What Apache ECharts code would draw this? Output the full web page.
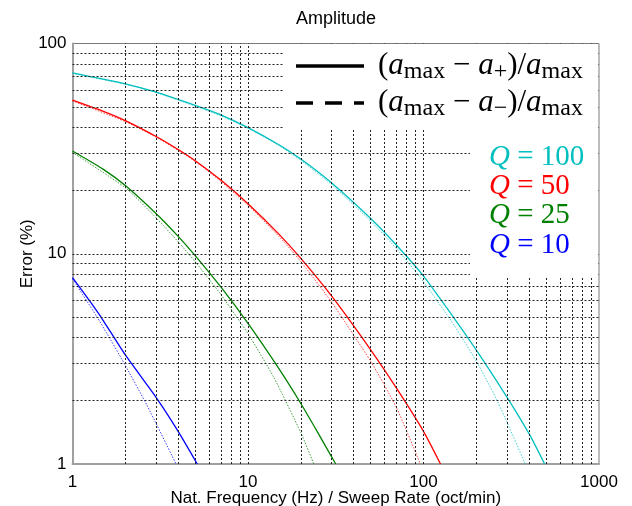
<!DOCTYPE html>
<html>
<head>
<meta charset="utf-8">
<script src="https://cdn.jsdelivr.net/npm/echarts@6/dist/echarts.min.js"></script>
<style>html,body{margin:0;padding:0;background:#fff}#c{width:632px;height:506px}</style>
</head>
<body>
<div id="c"></div>
<script>
// ---- data ----
const titleText = 'Amplitude';
const xName = 'Nat. Frequency (Hz) / Sweep Rate (oct/min)';
const yName = 'Error (%)';
const xTickLabels = [1, 10, 100, 1000];
const yTickLabels = [1, 10, 100];
const xGrid = [2,3,4,5,6,7,8,9,10,20,30,40,50,60,70,80,90,100,200,300,400,500,600,700,800,900];
const yGrid = [2,3,4,5,6,7,8,9,10,20,30,40,50,60,70,80,90];

const qLabels = ['100', '50', '25', '10'];
const qColors = ['#00BFBF', '#FF0000', '#008000', '#0000FF'];

// Q = 100
const q100PlusX  = [1, 2, 3, 5, 7, 10, 15, 20, 30, 50, 70, 100, 150, 200, 300, 400, 490];
const q100PlusY  = [72.5, 64.3, 58.7, 50.8, 45.8, 39.8, 33.0, 28.2, 21.7, 14.7, 11.0, 7.83, 4.92, 3.48, 2.07, 1.39, 1.0];
const q100MinusX = [1, 2, 3, 5, 7, 10, 15, 20, 30, 50, 70, 100, 150, 200, 250, 300, 380];
const q100MinusY = [72, 64, 58.4, 50.4, 45.3, 39.6, 32.7, 27.8, 21.3, 14.3, 10.6, 7.35, 4.55, 3.08, 2.18, 1.57, 1.0];
// Q = 50
const q50PlusX  = [1, 1.5, 2, 3, 4, 5, 7, 10, 15, 20, 30, 50, 70, 100, 125];
const q50PlusY  = [53.8, 47.6, 43.0, 36.1, 31.3, 27.7, 22.4, 17.3, 12.4, 9.5, 6.28, 3.49, 2.30, 1.43, 1.0];
const q50MinusX = [1, 2, 3, 5, 7, 10, 15, 20, 30, 50, 70, 96];
const q50MinusY = [53.3, 42.5, 35.8, 27.5, 22.1, 17.0, 12.1, 9.18, 5.87, 3.08, 1.86, 1.0];
// Q = 25
const q25PlusX  = [1, 1.5, 2, 3, 4, 5, 7, 10, 15, 20, 25, 31.6];
const q25PlusY  = [30.8, 25.2, 21.1, 15.5, 12.1, 9.8, 6.95, 4.66, 2.84, 1.94, 1.41, 1.0];
const q25MinusX = [1, 2, 3, 4, 5, 7, 10, 14, 20, 23.7];
const q25MinusY = [30.3, 20.6, 14.8, 11.4, 9.17, 6.4, 4.17, 2.59, 1.41, 1.0];
// Q = 10
const q10PlusX  = [1, 1.25, 1.5, 2, 3, 4, 5.14];
const q10PlusY  = [7.7, 5.98, 4.8, 3.3, 2.07, 1.43, 1.0];
const q10MinusX = [1, 1.37, 1.58, 1.91, 2.65, 3.89];
const q10MinusY = [7.6, 5.05, 4.14, 3.15, 1.91, 1.0];

// ---- chart ----
const zip = (xs, ys) => xs.map((x, i) => [x, ys[i]]);
const curves = [
  [q100PlusX, q100PlusY, q100MinusX, q100MinusY],
  [q50PlusX, q50PlusY, q50MinusX, q50MinusY],
  [q25PlusX, q25PlusY, q25MinusX, q25MinusY],
  [q10PlusX, q10PlusY, q10MinusX, q10MinusY]
];

const gridLineStyle = { color: '#222', width: 1, type: [2, 2] };
const series = [];
series.push({
  type: 'line', data: [], silent: true, z: 1,
  markLine: {
    silent: true, symbol: ['none', 'none'], label: { show: false },
    lineStyle: gridLineStyle, animation: false,
    emphasis: { disabled: true },
    data: xGrid.map(v => ({ xAxis: v })).concat(yGrid.map(v => ({ yAxis: v })))
  }
});
curves.forEach((c, i) => {
  series.push({
    type: 'line', data: zip(c[2], c[3]), showSymbol: false, smooth: 0.2,
    lineStyle: { color: qColors[i], width: 1, type: [1.5, 1.5], opacity: 0.75 }, z: 3
  });
  series.push({
    type: 'line', data: zip(c[0], c[1]), showSymbol: false, smooth: 0.2,
    lineStyle: { color: qColors[i], width: 1.3 }, z: 4
  });
});

const serif = 'Liberation Serif';
const sans = 'Liberation Sans';
const legendRich = {
  p: { fontFamily: serif, fontSize: 31, lineHeight: 36, verticalAlign: 'middle', fill: '#000' },
  i: { fontFamily: serif, fontStyle: 'italic', fontSize: 31, lineHeight: 36, verticalAlign: 'middle', fill: '#000' },
  s: { fontFamily: serif, fontSize: 24, lineHeight: 26, verticalAlign: 'bottom', fill: '#000' }
};

const graphics = [
  { type: 'rect', z: 100, shape: { x: 284, y: 44, width: 314, height: 86 }, style: { fill: '#fff' } },
  { type: 'rect', z: 100, shape: { x: 470, y: 130, width: 128, height: 148 }, style: { fill: '#fff' } },
  { type: 'line', z: 101, shape: { x1: 296, y1: 66, x2: 364, y2: 66 }, style: { stroke: '#000', lineWidth: 3.5 } },
  { type: 'line', z: 101, shape: { x1: 296, y1: 103, x2: 364, y2: 103 }, style: { stroke: '#000', lineWidth: 3.5, lineDash: [17, 12] } },
  { type: 'text', z: 101, x: 378, y: 66, style: {
      text: '{p|(}{i|a}{s|max}{p| − }{i|a}{s|+}{p|)/}{i|a}{s|max}', rich: legendRich, verticalAlign: 'middle' } },
  { type: 'text', z: 101, x: 378, y: 103, style: {
      text: '{p|(}{i|a}{s|max}{p| − }{i|a}{s|−}{p|)/}{i|a}{s|max}', rich: legendRich, verticalAlign: 'middle' } },
  { type: 'text', z: 101, x: 336, y: 19, style: {
      text: titleText, fontFamily: sans, fontSize: 18, fill: '#000', align: 'center', verticalAlign: 'middle' } }
];
qLabels.forEach((q, i) => {
  graphics.push({ type: 'text', z: 101, x: 489, y: 157 + i * 29.3, style: {
    text: '{q|Q}{n| = ' + q + '}', verticalAlign: 'middle',
    rich: {
      q: { fontFamily: serif, fontStyle: 'italic', fontSize: 29, fill: qColors[i] },
      n: { fontFamily: serif, fontSize: 29, fill: qColors[i] }
    } } });
});

const chart = echarts.init(document.getElementById('c'), null, { renderer: 'canvas' });
chart.setOption({
  animation: false,
  backgroundColor: '#fff',
  grid: { left: 72.5, right: 33, top: 43.5, bottom: 42, show: true, borderColor: '#7a7a7a', borderWidth: 1,
    outerBoundsMode: 'none', containLabel: false },
  xAxis: {
    type: 'log', logBase: 10, min: xTickLabels[0], max: xTickLabels[xTickLabels.length - 1],
    name: xName, nameLocation: 'middle', nameGap: 26, nameMoveOverlap: false,
    nameTextStyle: { fontFamily: sans, fontSize: 17, color: '#000' },
    axisLine: { lineStyle: { color: '#a0a0a0', width: 2 } },
    axisTick: { show: false },
    axisLabel: { fontFamily: sans, fontSize: 17, color: '#000', margin: 10,
      formatter: v => (xTickLabels.indexOf(Math.round(v)) >= 0 ? String(Math.round(v)) : '') },
    splitLine: { show: false }
  },
  yAxis: {
    type: 'log', logBase: 10, min: yTickLabels[0], max: yTickLabels[yTickLabels.length - 1],
    name: yName, nameLocation: 'middle', nameGap: 37, nameRotate: 90, nameMoveOverlap: false,
    nameTextStyle: { fontFamily: sans, fontSize: 17, color: '#000' },
    axisLine: { lineStyle: { color: '#a0a0a0', width: 2 } },
    axisTick: { show: false },
    axisLabel: { fontFamily: sans, fontSize: 17, color: '#000', margin: 6,
      formatter: v => (yTickLabels.indexOf(Math.round(v)) >= 0 ? String(Math.round(v)) : '') },
    splitLine: { show: false }
  },
  series: series,
  graphic: graphics
});
</script>
</body>
</html>
